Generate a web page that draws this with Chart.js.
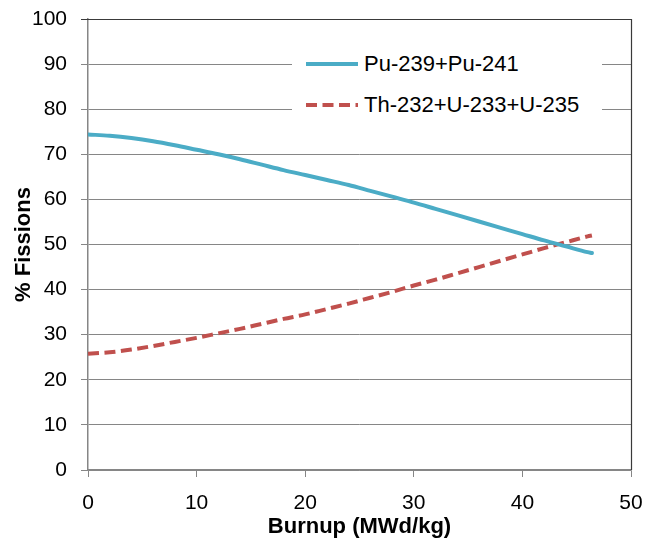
<!DOCTYPE html>
<html>
<head>
<meta charset="utf-8">
<script src="https://cdn.jsdelivr.net/npm/chart.js@4.4.1/dist/chart.umd.min.js"></script>
<style>
  body { margin: 0; background: #fff; }
  #wrap { position: relative; width: 646px; height: 541px; }
  #legend {
    position: absolute; left: 292px; top: 44px; width: 310px; height: 84px;
    background: #fff; font-family: "Liberation Sans", Arial, sans-serif; font-size: 22px; color: #000;
  }
  .row { position: absolute; left: 0; height: 28px; display: flex; align-items: center; }
  .row svg { margin-left: 14px; margin-right: 6px; }
</style>
</head>
<body>
<div id="wrap">
  <canvas id="fissionChart" width="646" height="541"></canvas>
  <div id="legend"></div>
</div>
<script>
// burnup steps (MWd/kg) and fission shares (%)
const burnup = [0, 2, 4, 6, 8, 10, 12, 14, 16, 18, 20, 22, 24, 26, 28, 30, 32, 34, 36, 38, 40, 42, 44, 46, 46.4];
const puFissions = [74.4, 74.1, 73.6, 72.9, 72.0, 71.0, 70.0, 68.9, 67.7, 66.5, 65.4, 64.3, 63.2, 61.9, 60.6, 59.3, 57.9, 56.5, 55.1, 53.7, 52.3, 50.9, 49.6, 48.3, 48.1];
const thuFissions = [25.8, 26.1, 26.7, 27.5, 28.4, 29.3, 30.3, 31.3, 32.4, 33.5, 34.5, 35.7, 36.9, 38.2, 39.5, 40.9, 42.2, 43.6, 45.0, 46.4, 47.8, 49.2, 50.5, 51.8, 52.0];
const seriesNames = ['Pu-239+Pu-241', 'Th-232+U-233+U-235'];
const seriesColors = ['#4BACC6', '#C0504D'];

const FONT = '"Liberation Sans", Arial, sans-serif';
const GRID = '#868686';
const DASH = [11, 5.5];

function toPoints(ys) {
  return burnup.map((x, i) => ({ x: x, y: ys[i] }));
}

// dark frame on the top and right side of the plot area
const plotFrame = {
  id: 'plotFrame',
  afterDraw(chart) {
    const { ctx, chartArea: a } = chart;
    ctx.save();
    ctx.strokeStyle = '#3a3a3a';
    ctx.lineWidth = 1.2;
    ctx.beginPath();
    ctx.moveTo(a.left - 7, a.top + 0.5);
    ctx.lineTo(a.right + 0.5, a.top + 0.5);
    ctx.lineTo(a.right + 0.5, a.bottom);
    ctx.stroke();
    ctx.restore();
  }
};

const ctx = document.getElementById('fissionChart').getContext('2d');
const chart = new Chart(ctx, {
  type: 'line',
  data: {
    datasets: [{
      label: seriesNames[0],
      data: toPoints(puFissions),
      borderColor: seriesColors[0],
      borderWidth: 4,
      pointRadius: 0,
      cubicInterpolationMode: 'monotone',
      borderCapStyle: 'round'
    }, {
      label: seriesNames[1],
      data: toPoints(thuFissions),
      borderColor: seriesColors[1],
      borderWidth: 4,
      borderDash: DASH,
      borderCapStyle: 'butt',
      pointRadius: 0,
      cubicInterpolationMode: 'monotone'
    }]
  },
  options: {
    responsive: false,
    animation: false,
    layout: { padding: { top: 19, right: 15, left: 0, bottom: 0 } },
    plugins: { legend: { display: false }, tooltip: { enabled: false } },
    scales: {
      x: {
        type: 'linear',
        min: 0, max: 50,
        ticks: { stepSize: 10, color: '#000', font: { family: FONT, size: 21 }, padding: 14, maxRotation: 0 },
        grid: { drawOnChartArea: false, drawTicks: true, tickLength: 7, color: GRID },
        border: { color: GRID, width: 1.5 },
        title: { display: true, text: 'Burnup (MWd/kg)', color: '#000', font: { family: FONT, size: 22, weight: 'bold' }, padding: { top: 0, bottom: 1 } },
        afterFit(s) { s.height = 71; s.paddingLeft = 0; s.paddingRight = 0; }
      },
      y: {
        min: 0, max: 100,
        ticks: { stepSize: 10, color: '#000', font: { family: FONT, size: 21 }, padding: 14 },
        grid: { color: GRID, tickLength: 7 },
        border: { color: GRID, width: 1.5 },
        title: { display: true, text: '% Fissions', color: '#000', font: { family: FONT, size: 22, weight: 'bold' }, padding: { top: 11, bottom: 0 } },
        afterFit(s) { s.width = 88; s.paddingTop = 0; s.paddingBottom = 0; }
      }
    }
  },
  plugins: [plotFrame]
});

// legend box sitting inside the plot
const legend = document.getElementById('legend');
chart.data.datasets.forEach((ds, i) => {
  const row = document.createElement('div');
  row.className = 'row';
  row.style.top = (6 + i * 41) + 'px';
  const dash = ds.borderDash ? ' stroke-dasharray="' + ds.borderDash.join(' ') + '"' : '';
  row.innerHTML = '<svg width="52" height="8"><line x1="0" y1="4" x2="52" y2="4" stroke="' + ds.borderColor +
    '" stroke-width="4"' + dash + '/></svg><span>' + ds.label + '</span>';
  legend.appendChild(row);
});
</script>
</body>
</html>
